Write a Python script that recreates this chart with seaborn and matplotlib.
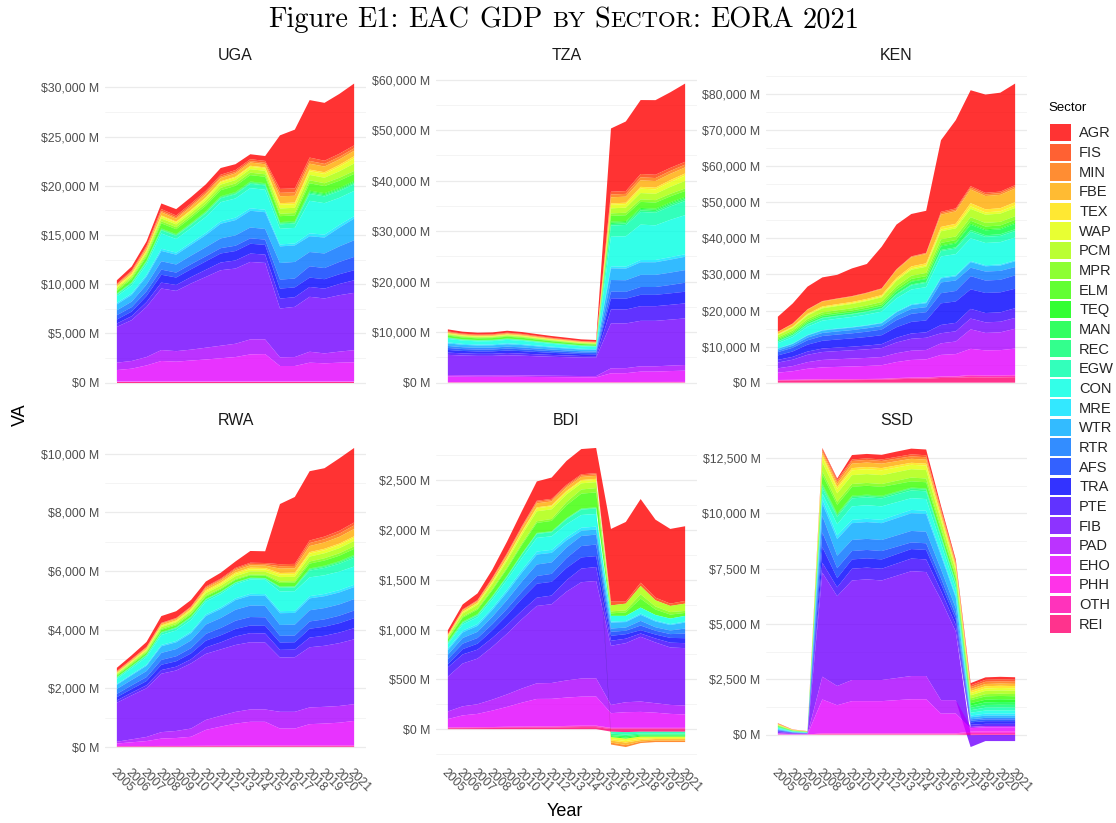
import colorsys

import numpy as np
import pandas as pd
import matplotlib
matplotlib.use("Agg")
import matplotlib.pyplot as plt
import seaborn as sns
from matplotlib.patches import Patch
from matplotlib.ticker import FuncFormatter, MultipleLocator

# ---------------------------------------------------------------------------
# Data: value added by sector (US$ millions), EORA, 2005-2021
# Rows follow SECTORS order (AGR first ... REI last), columns follow YEARS.
# ---------------------------------------------------------------------------
YEARS = [2005, 2006, 2007, 2008, 2009, 2010, 2011, 2012, 2013,
         2014, 2015, 2016, 2017, 2018, 2019, 2020, 2021]

SECTORS = ["AGR", "FIS", "MIN", "FBE", "TEX", "WAP", "PCM", "MPR", "ELM",
           "TEQ", "MAN", "REC", "EGW", "CON", "MRE", "WTR", "RTR", "AFS",
           "TRA", "PTE", "FIB", "PAD", "EHO", "PHH", "OTH", "REI"]

COUNTRIES = ["UGA", "TZA", "KEN", "RWA", "BDI", "SSD"]

Y_STEP = [5000, 10000, 10000, 2000, 500, 2500]

UGA = [
    [350, 400, 450, 570, 650, 650, 660, 680, 600, 500, 500, 5440, 5980, 5840, 5880, 6080, 6280],
    [80, 100, 140, 190, 180, 190, 190, 190, 190, 190, 190, 400, 390, 340, 320, 310, 300],
    [60, 80, 100, 140, 140, 150, 150, 150, 150, 150, 150, 350, 350, 280, 270, 260, 250],
    [120, 160, 230, 320, 300, 310, 320, 330, 330, 330, 320, 700, 690, 600, 580, 560, 550],
    [60, 65, 75, 90, 85, 90, 95, 100, 100, 100, 100, 160, 160, 160, 165, 190, 210],
    [130, 145, 170, 210, 200, 210, 220, 235, 245, 250, 250, 380, 370, 380, 390, 460, 530],
    [170, 190, 230, 290, 280, 290, 310, 330, 340, 350, 350, 540, 530, 550, 560, 660, 760],
    [120, 140, 170, 210, 200, 210, 225, 240, 245, 250, 250, 240, 240, 300, 290, 300, 300],
    [250, 300, 380, 520, 500, 530, 570, 610, 630, 650, 650, 600, 590, 750, 720, 710, 700],
    [30, 35, 40, 50, 50, 50, 55, 55, 60, 60, 60, 60, 60, 90, 90, 95, 100],
    [40, 45, 55, 65, 65, 65, 70, 75, 80, 80, 80, 90, 90, 120, 120, 125, 130],
    [40, 45, 55, 65, 65, 65, 70, 75, 80, 80, 80, 80, 80, 120, 115, 115, 110],
    [170, 200, 240, 330, 320, 340, 370, 400, 430, 450, 450, 450, 450, 700, 690, 690, 680],
    [680, 820, 1050, 1550, 1380, 1470, 1620, 1950, 1950, 2050, 2030, 1590, 1580, 3300, 3200, 2750, 2560],
    [150, 160, 180, 220, 210, 220, 230, 240, 250, 250, 250, 200, 200, 300, 290, 280, 260],
    [600, 680, 820, 1050, 1000, 1100, 1230, 1490, 1550, 1700, 1700, 1690, 1680, 1600, 1620, 1900, 2200],
    [500, 560, 680, 850, 820, 870, 920, 990, 1050, 1100, 1080, 1690, 1680, 1450, 1480, 1580, 1690],
    [440, 450, 480, 520, 500, 510, 520, 540, 540, 550, 540, 910, 900, 1150, 1130, 1250, 1350],
    [400, 470, 620, 800, 760, 800, 860, 920, 960, 1000, 980, 1010, 1000, 950, 960, 990, 1020],
    [340, 400, 480, 600, 600, 650, 720, 780, 820, 850, 850, 1010, 980, 1000, 1000, 1140, 1280],
    [3640, 4150, 5100, 6250, 6120, 6720, 7190, 7670, 7640, 7870, 7770, 4960, 5100, 5580, 5580, 5730, 5820],
    [750, 780, 850, 1110, 1070, 1100, 1200, 1270, 1350, 1520, 1490, 880, 910, 1110, 1010, 1120, 1240],
    [1180, 1320, 1650, 2100, 2030, 2150, 2250, 2380, 2500, 2770, 2800, 1590, 1590, 1930, 1860, 1930, 1960],
    [30, 30, 30, 30, 30, 30, 30, 30, 30, 30, 30, 30, 30, 30, 30, 30, 30],
    [30, 30, 30, 30, 30, 30, 30, 30, 30, 30, 30, 30, 30, 30, 30, 30, 30],
    [40, 40, 40, 40, 40, 40, 40, 40, 40, 40, 40, 40, 40, 40, 40, 40, 40],
]

TZA = [
    [400, 380, 370, 370, 380, 370, 360, 350, 340, 330, 330, 12520, 13780, 14640, 14770, 14970, 15490],
    [120, 112, 109, 110, 116, 111, 104, 97, 91, 85, 82, 560, 550, 650, 650, 600, 560],
    [100, 93, 91, 92, 96, 93, 87, 81, 76, 71, 68, 550, 550, 600, 600, 570, 550],
    [150, 140, 136, 138, 144, 139, 130, 121, 114, 106, 102, 1200, 1200, 1300, 1300, 1250, 1200],
    [60, 56, 54, 55, 58, 56, 52, 49, 45, 42, 41, 280, 280, 350, 350, 390, 420],
    [100, 93, 91, 92, 96, 93, 87, 81, 76, 71, 68, 700, 700, 870, 870, 950, 1050],
    [150, 140, 136, 138, 144, 139, 130, 121, 114, 106, 102, 1000, 1000, 1250, 1250, 1380, 1500],
    [150, 140, 136, 138, 144, 139, 130, 121, 114, 106, 102, 500, 500, 500, 500, 500, 500],
    [360, 336, 327, 331, 347, 334, 313, 291, 273, 254, 245, 1150, 1150, 1200, 1200, 1180, 1150],
    [40, 37, 36, 37, 39, 37, 35, 32, 30, 28, 27, 200, 200, 200, 200, 200, 200],
    [50, 47, 45, 46, 48, 46, 43, 40, 38, 35, 34, 270, 270, 280, 280, 280, 280],
    [50, 47, 45, 46, 48, 46, 43, 40, 38, 35, 34, 300, 300, 320, 320, 330, 350],
    [150, 140, 136, 138, 144, 139, 130, 121, 114, 106, 102, 2200, 2250, 2500, 2500, 2650, 2800],
    [700, 653, 636, 644, 674, 649, 608, 566, 530, 493, 476, 5860, 6000, 7000, 6850, 7400, 7740],
    [200, 187, 182, 184, 193, 185, 174, 162, 151, 141, 136, 400, 400, 450, 450, 480, 500],
    [500, 467, 454, 460, 481, 463, 434, 404, 378, 352, 340, 2310, 2300, 2500, 2500, 2570, 2640],
    [400, 373, 363, 368, 385, 371, 348, 324, 303, 282, 272, 2310, 2300, 2400, 2400, 2450, 2500],
    [400, 373, 363, 368, 385, 371, 348, 324, 303, 282, 272, 1320, 1350, 1550, 1550, 1650, 1780],
    [520, 485, 472, 478, 500, 482, 452, 420, 394, 367, 354, 2180, 2150, 2250, 2250, 2280, 2310],
    [450, 420, 410, 415, 435, 415, 390, 365, 340, 317, 306, 2770, 2750, 2900, 2900, 2930, 2970],
    [4000, 3900, 3850, 3850, 3950, 3900, 3820, 3750, 3700, 3650, 3650, 8900, 8850, 9000, 9000, 9100, 9230],
    [300, 290, 290, 290, 300, 290, 280, 270, 260, 250, 250, 990, 1000, 1050, 1050, 1080, 1120],
    [1100, 1080, 1060, 1060, 1070, 1050, 1020, 1000, 980, 960, 950, 1730, 1750, 2050, 2050, 2150, 2220],
    [30, 30, 30, 30, 30, 30, 30, 30, 30, 30, 30, 40, 40, 45, 45, 48, 50],
    [40, 40, 40, 40, 40, 40, 40, 40, 40, 40, 40, 50, 50, 55, 55, 58, 60],
    [30, 30, 30, 30, 30, 30, 30, 30, 30, 30, 30, 30, 30, 35, 35, 38, 40],
]

KEN = [
    [4160, 5550, 6280, 6560, 6560, 7670, 7950, 11550, 12380, 11750, 11670, 19860, 24490, 26610, 27260, 27440, 28180],
    [40, 47, 59, 66, 68, 70, 72, 75, 89, 97, 100, 400, 404, 429, 421, 422, 430],
    [60, 70, 85, 95, 97, 100, 110, 120, 160, 190, 200, 400, 410, 500, 470, 480, 500],
    [550, 760, 1130, 1340, 1410, 1470, 1560, 1670, 2170, 2510, 2600, 3400, 3450, 3790, 3690, 3700, 3800],
    [170, 200, 250, 280, 290, 300, 320, 340, 460, 530, 550, 700, 730, 890, 840, 850, 900],
    [150, 170, 210, 240, 240, 250, 260, 280, 340, 390, 400, 500, 530, 690, 640, 650, 700],
    [600, 740, 980, 1120, 1160, 1200, 1240, 1290, 1510, 1660, 1700, 2240, 2250, 2300, 2280, 2290, 2300],
    [400, 450, 530, 570, 590, 600, 620, 650, 790, 880, 900, 1000, 1000, 1000, 1000, 1000, 1000],
    [300, 320, 360, 390, 390, 400, 420, 440, 520, 580, 600, 700, 710, 800, 770, 780, 800],
    [60, 70, 85, 95, 97, 100, 110, 120, 160, 190, 200, 250, 260, 300, 290, 290, 300],
    [300, 330, 390, 430, 440, 450, 480, 510, 670, 770, 800, 1000, 1060, 1480, 1360, 1380, 1500],
    [100, 110, 130, 140, 150, 150, 160, 170, 210, 240, 250, 300, 330, 490, 440, 450, 500],
    [450, 510, 610, 670, 680, 700, 740, 790, 1010, 1160, 1200, 1500, 1540, 1790, 1710, 1730, 1800],
    [1450, 1760, 2300, 2610, 2710, 2800, 2910, 3050, 3670, 4080, 4200, 5800, 5860, 6280, 6160, 6180, 6300],
    [100, 110, 130, 140, 150, 150, 160, 170, 210, 240, 250, 300, 300, 300, 300, 300, 300],
    [460, 520, 610, 670, 680, 700, 730, 770, 950, 1070, 1100, 1100, 1160, 1580, 1460, 1480, 1600],
    [460, 560, 740, 840, 870, 900, 940, 990, 1210, 1360, 1400, 3000, 2910, 2330, 2500, 2480, 2300],
    [920, 1030, 1220, 1330, 1370, 1400, 1470, 1560, 1960, 2230, 2300, 2800, 2910, 3670, 3440, 3480, 3700],
    [1250, 1490, 1910, 2150, 2230, 2300, 2380, 2480, 2920, 3220, 3300, 6000, 5930, 5420, 5570, 5550, 5400],
    [740, 800, 900, 960, 980, 1000, 1040, 1090, 1310, 1460, 1500, 2300, 2350, 2680, 2580, 2600, 2700],
    [1600, 1760, 2040, 2200, 2250, 2300, 2380, 2490, 2990, 3310, 3400, 2800, 2830, 2990, 2940, 2950, 3000],
    [1200, 1430, 1830, 2060, 2130, 2200, 2230, 2270, 2450, 2570, 2600, 3200, 3490, 5410, 4840, 4930, 5500],
    [2030, 2370, 2960, 3290, 3400, 3500, 3620, 3770, 4440, 4880, 5000, 6000, 6160, 7250, 6930, 6980, 7300],
    [90, 92, 96, 99, 99, 100, 100, 100, 100, 100, 100, 100, 112, 196, 171, 175, 200],
    [150, 157, 169, 176, 178, 180, 185, 192, 224, 244, 250, 300, 319, 444, 407, 412, 450],
    [500, 550, 630, 670, 690, 700, 730, 770, 950, 1070, 1100, 1300, 1330, 1490, 1440, 1450, 1500],
]

RWA = [
    [110, 130, 170, 230, 230, 220, 170, 200, 220, 400, 400, 2050, 2280, 2360, 2330, 2470, 2540],
    [15, 15, 15, 15, 15, 15, 27, 30, 37, 40, 40, 70, 70, 87, 90, 94, 100],
    [20, 21, 22, 24, 24, 25, 37, 40, 47, 50, 50, 80, 80, 103, 107, 112, 120],
    [30, 34, 38, 45, 46, 50, 64, 68, 76, 80, 80, 150, 150, 207, 217, 229, 250],
    [10, 14, 18, 25, 26, 30, 39, 42, 48, 50, 50, 50, 50, 50, 50, 50, 50],
    [20, 24, 28, 35, 36, 40, 58, 64, 75, 80, 80, 90, 90, 101, 103, 106, 110],
    [30, 37, 45, 60, 63, 70, 84, 88, 96, 100, 100, 150, 150, 167, 170, 174, 180],
    [30, 32, 34, 38, 38, 40, 35, 34, 31, 30, 30, 50, 50, 73, 77, 82, 90],
    [50, 54, 58, 65, 66, 70, 75, 76, 79, 80, 80, 120, 120, 165, 174, 185, 200],
    [5, 6, 7, 9, 9, 10, 8, 7, 6, 5, 5, 10, 10, 16, 17, 18, 20],
    [10, 11, 12, 14, 14, 15, 10, 9, 6, 5, 5, 10, 10, 21, 23, 26, 30],
    [10, 11, 12, 14, 14, 15, 13, 12, 11, 10, 10, 20, 20, 37, 40, 44, 50],
    [40, 47, 55, 70, 73, 80, 60, 55, 45, 40, 40, 130, 130, 230, 250, 270, 300],
    [170, 210, 260, 340, 360, 400, 440, 455, 480, 490, 490, 670, 670, 640, 635, 630, 620],
    [30, 34, 38, 45, 46, 50, 55, 56, 59, 60, 60, 70, 70, 76, 77, 78, 80],
    [140, 160, 180, 225, 230, 250, 290, 305, 330, 340, 340, 400, 400, 405, 405, 408, 410],
    [170, 185, 205, 240, 245, 260, 320, 340, 375, 390, 390, 370, 370, 380, 385, 385, 390],
    [110, 125, 135, 165, 170, 180, 230, 250, 280, 290, 290, 230, 230, 250, 250, 255, 260],
    [110, 125, 145, 180, 185, 200, 230, 240, 255, 260, 260, 250, 250, 300, 310, 320, 340],
    [80, 90, 100, 125, 130, 140, 220, 240, 290, 310, 310, 260, 260, 330, 340, 360, 380],
    [1330, 1500, 1660, 1990, 2060, 2220, 2250, 2260, 2280, 2290, 2280, 1850, 1860, 2050, 2080, 2140, 2210],
    [60, 100, 140, 220, 240, 280, 340, 370, 400, 420, 420, 570, 570, 570, 570, 570, 570],
    [90, 130, 170, 250, 270, 310, 540, 650, 750, 810, 810, 580, 580, 730, 750, 780, 840],
    [10, 10, 10, 10, 10, 10, 10, 10, 10, 10, 10, 10, 10, 10, 10, 10, 10],
    [10, 11, 12, 14, 14, 15, 17, 18, 19, 20, 20, 20, 20, 20, 20, 20, 20],
    [10, 11, 12, 14, 14, 15, 17, 18, 19, 20, 20, 20, 20, 20, 20, 20, 20],
]

BDI = [
    [40, 50, 67, 83, 117, 150, 194, 214, 240, 253, 253, 730, 800, 840, 783, 750, 750],
    [3, 4, 5, 6, 8, 9, 11, 11, 12, 12, 12, 38, 20, 33, 27, 23, 27],
    [4, 6, 7, 9, 11, 13, 15, 15, 15, 15, 15, -20, -20, -15, -15, -15, -15],
    [8, 14, 16, 22, 28, 34, 40, 39, 34, 31, 30, -20, -25, -15, -15, -15, -15],
    [4, 5, 6, 7, 8, 9, 10, 10, 10, 10, 10, -15, -15, -15, -10, -10, -10],
    [8, 12, 14, 17, 21, 26, 30, 30, 26, 23, 23, -20, -25, -20, -15, -15, -15],
    [15, 31, 37, 51, 67, 84, 100, 97, 77, 62, 60, 60, 67, 84, 62, 62, 73],
    [10, 11, 12, 13, 14, 16, 17, 19, 32, 42, 43, 20, 21, 43, 30, 25, 20],
    [25, 39, 44, 57, 71, 86, 100, 104, 129, 148, 150, 25, 35, 90, 55, 40, 30],
    [3, 3, 3, 3, 2, 2, 2, 2, 3, 3, 3, -10, -10, -10, -10, -10, -10],
    [5, 5, 5, 4, 4, 3, 3, 3, 4, 4, 4, -10, -15, -10, -10, -10, -10],
    [5, 5, 5, 5, 5, 5, 5, 5, 5, 5, 5, -15, -15, -10, -10, -10, -10],
    [10, 16, 18, 23, 28, 34, 40, 41, 49, 54, 55, -20, -25, -20, -20, -20, -20],
    [45, 62, 68, 84, 101, 120, 137, 136, 131, 128, 127, 57, 52, 60, 55, 55, 57],
    [15, 18, 19, 21, 24, 27, 30, 30, 30, 30, 30, 10, 10, 13, 10, 10, 10],
    [46, 56, 60, 69, 79, 90, 100, 96, 72, 53, 50, 60, 55, 60, 58, 55, 60],
    [44, 57, 62, 74, 88, 102, 116, 115, 107, 101, 100, 33, 32, 47, 35, 36, 50],
    [50, 55, 57, 61, 66, 72, 77, 80, 99, 114, 116, 40, 35, 47, 38, 38, 47],
    [33, 53, 60, 78, 98, 120, 140, 138, 123, 112, 110, 50, 45, 33, 40, 48, 50],
    [93, 91, 90, 89, 87, 85, 83, 87, 115, 137, 140, 50, 45, 33, 40, 48, 50],
    [350, 430, 458, 530, 610, 696, 777, 791, 891, 967, 977, 594, 593, 650, 610, 577, 576],
    [76, 91, 97, 110, 125, 142, 157, 159, 172, 182, 183, 83, 100, 104, 95, 90, 90],
    [85, 120, 133, 165, 200, 240, 275, 276, 285, 291, 292, 147, 157, 160, 152, 140, 134],
    [3, 3, 4, 4, 4, 5, 5, 5, 5, 5, 5, 5, 5, 5, 5, 5, 5],
    [5, 6, 6, 6, 7, 7, 8, 8, 9, 10, 10, 8, 8, 8, 8, 8, 8],
    [8, 9, 10, 11, 13, 14, 15, 15, 18, 20, 20, -25, -30, -25, -25, -25, -25],
]

SSD = [
    [10, 4, 3, 30, 60, 200, 200, 210, 240, 260, 260, 140, 100, 100, 110, 115, 110],
    [15, 7, 5, 100, 80, 70, 70, 70, 80, 90, 90, 70, 55, 80, 90, 90, 90],
    [15, 7, 5, 80, 100, 120, 120, 120, 115, 110, 110, 90, 70, 90, 100, 100, 100],
    [20, 9, 6, 100, 140, 200, 200, 200, 190, 180, 180, 140, 110, 90, 100, 100, 100],
    [15, 7, 5, 100, 90, 100, 100, 100, 95, 90, 90, 70, 55, 90, 100, 100, 100],
    [15, 7, 5, 240, 200, 220, 220, 220, 210, 200, 200, 160, 120, 100, 110, 110, 110],
    [20, 9, 6, 400, 380, 400, 400, 400, 390, 380, 380, 300, 230, 135, 150, 150, 150],
    [15, 7, 5, 160, 140, 130, 130, 130, 150, 170, 170, 130, 100, 90, 100, 100, 100],
    [25, 11, 8, 400, 400, 400, 400, 400, 340, 280, 280, 230, 180, 135, 150, 150, 150],
    [15, 7, 5, 50, 40, 30, 30, 30, 25, 20, 20, 20, 15, 105, 120, 125, 115],
    [15, 7, 5, 50, 40, 30, 30, 30, 30, 30, 30, 25, 20, 105, 120, 125, 125],
    [15, 7, 5, 100, 70, 60, 60, 60, 70, 80, 80, 60, 45, 105, 120, 125, 125],
    [20, 9, 6, 250, 330, 360, 360, 360, 355, 350, 350, 270, 210, 115, 130, 135, 130],
    [40, 18, 12, 250, 500, 610, 610, 610, 570, 530, 530, 420, 320, 125, 140, 140, 140],
    [20, 9, 6, 200, 170, 150, 150, 150, 150, 150, 150, 120, 90, 80, 90, 90, 90],
    [30, 14, 9, 560, 750, 760, 760, 760, 780, 800, 800, 620, 480, 90, 100, 100, 100],
    [20, 9, 6, 750, 560, 500, 500, 500, 510, 520, 520, 400, 300, 65, 70, 70, 70],
    [20, 9, 6, 660, 450, 380, 380, 380, 340, 300, 300, 260, 200, 75, 80, 80, 80],
    [30, 14, 9, 710, 420, 420, 420, 420, 425, 430, 430, 320, 250, 110, 120, 120, 120],
    [20, 9, 6, 450, 400, 530, 530, 530, 550, 570, 570, 400, 300, 95, 100, 100, 100],
    [60, 27, 18, 4700, 4060, 4500, 4550, 4500, 4620, 4740, 4700, 4540, 3100, -540, -275, -275, -275],
    [20, 9, 6, 1030, 870, 955, 955, 955, 1000, 1050, 1050, 610, 605, 55, 60, 60, 60],
    [30, 14, 9, 1530, 1270, 1455, 1455, 1455, 1500, 1540, 1540, 890, 895, 160, 180, 180, 180],
    [5, 2, 2, 20, 20, 20, 20, 20, 20, 20, 20, 20, 20, 55, 70, 70, 70],
    [5, 2, 2, 20, 20, 20, 20, 20, 20, 20, 20, 20, 20, 80, 80, 80, 80],
    [5, 2, 2, 20, 20, 20, 20, 20, 20, 20, 20, 20, 20, -20, -15, -15, -15],
]

TABLES = [UGA, TZA, KEN, RWA, BDI, SSD]

# ---------------------------------------------------------------------------
# Style
# ---------------------------------------------------------------------------
sns.set_theme(style="white")
plt.rcParams["font.family"] = ["Liberation Sans", "DejaVu Sans"]

W, H, DPI = 1116, 823, 100

# rainbow palette (hue steps of 1/27 of the wheel) drawn at 80% opacity
PALETTE = [(*colorsys.hsv_to_rgb(i / (len(SECTORS) + 1), 1.0, 1.0), 0.8)
           for i in range(len(SECTORS))]

records = []
for code, table in zip(COUNTRIES, TABLES):
    for sector, row in zip(SECTORS, table):
        records.append(pd.DataFrame({"Country": code, "Sector": sector,
                                     "Year": YEARS, "VA": row}))
df = pd.concat(records, ignore_index=True)


def stacked_area(data, **kws):
    """Stack sectors like ggplot's position_stack: positives up, negatives down."""
    ax = plt.gca()
    wide = data.pivot(index="Sector", columns="Year", values="VA").reindex(SECTORS)
    x = wide.columns.to_numpy(dtype=float)
    vals = wide.to_numpy(dtype=float)
    pos = np.zeros_like(x)
    neg = np.zeros_like(x)
    bands = []
    for i in range(len(SECTORS) - 1, -1, -1):
        v = vals[i]
        lo = np.where(v >= 0, pos, neg + v)
        hi = np.where(v >= 0, pos + v, neg)
        pos = pos + np.clip(v, 0, None)
        neg = neg + np.clip(v, None, 0)
        bands.append((i, lo, hi))
    for i, lo, hi in reversed(bands):
        ax.fill_between(x, lo, hi, facecolor=PALETTE[i], edgecolor="none",
                        linewidth=0)
    ymin = min(0.0, neg.min())
    ymax = max(0.0, pos.max())
    pad = 0.05 * (ymax - ymin)
    ax.set_ylim(ymin - pad, ymax + pad)


g = sns.FacetGrid(df, col="Country", col_order=COUNTRIES, col_wrap=3,
                  sharex=True, sharey=False, height=3, aspect=1, despine=False)
g.map_dataframe(stacked_area)

fig = g.figure
fig.set_layout_engine("none")
fig.set_size_inches(W / DPI, H / DPI)
fig.set_dpi(DPI)

money = FuncFormatter(lambda v, p: f"${v:,.0f} M")

col_left = [105, 436, 766]
panel_w = 261
row_span = [(68.6, 397.6), (433.0, 762.0)]

for k, (ax, code) in enumerate(zip(g.axes.flat, COUNTRIES)):
    r, c = divmod(k, 3)
    top, bottom = row_span[r]
    ax.set_position([col_left[c] / W, 1 - bottom / H, panel_w / W, (bottom - top) / H])
    ax.set_facecolor("white")
    ax.set_title(code, fontsize=11.5, color="#1A1A1A", pad=6)
    ax.set_xlim(2004.2, 2021.8)
    ax.yaxis.set_major_locator(MultipleLocator(Y_STEP[k]))
    ax.yaxis.set_minor_locator(MultipleLocator(Y_STEP[k] / 2))
    ax.yaxis.set_major_formatter(money)
    ax.grid(False)
    ax.grid(True, which="major", axis="y", color="#EBEBEB", linewidth=0.9)
    ax.grid(True, which="minor", axis="y", color="#F0F0F0", linewidth=0.5)
    ax.set_axisbelow(True)
    for s in ax.spines.values():
        s.set_visible(False)
    ax.tick_params(which="both", length=0, labelsize=8.8, labelcolor="#4D4D4D", pad=4)
    ax.set_xlabel("")
    ax.set_ylabel("")
    ax.set_xticks(YEARS)
    if r == 1:
        ax.tick_params(axis="x", labelbottom=True, pad=3)
        ax.set_xticklabels([str(y) for y in YEARS], rotation=-45, ha="left",
                           va="top", rotation_mode="anchor")
    else:
        ax.tick_params(axis="x", labelbottom=False)

# axis titles
fig.text(565 / W, 1 - 812 / H, "Year", ha="center", va="center", fontsize=13, color="black")
fig.text(20 / W, 1 - 415 / H, "VA", ha="center", va="center", rotation=90,
         fontsize=13, color="black")

# legend
fig.text(1048 / W, 1 - 108 / H, "Sector", ha="left", va="center", fontsize=9.5, color="black")
handles = [Patch(facecolor=PALETTE[i], edgecolor="none") for i in range(len(SECTORS))]
fig.legend(handles, SECTORS, loc="upper left", bbox_to_anchor=(1050 / W, 1 - 124 / H),
           frameon=False, fontsize=10.5, handlelength=1.45, handleheight=1.45,
           labelspacing=0.16, handletextpad=0.55, borderaxespad=0, borderpad=0)

# title with small capitals, Computer Modern face
renderer = fig.canvas.get_renderer()
FULL = 1.0
SMALL = 0.8
words = [[("Figure", FULL)], [("E1:", FULL)], [("EAC", FULL)], [("GDP", FULL)],
         [("BY", SMALL)], [("S", FULL), ("ECTOR", SMALL), (":", FULL)],
         [("EORA", FULL)], [("2021", FULL)]]


def run_width(text, size):
    t = fig.text(0, 0, text, fontsize=size, family="cmr10")
    w = t.get_window_extent(renderer).width
    t.remove()
    return w


def layout_width(base):
    total = 0.0
    for j, word in enumerate(words):
        for text, scale in word:
            total += run_width(text, base * scale)
        if j < len(words) - 1:
            total += 0.333 * base * DPI / 72
    return total


base = 18.0
base *= 592 / layout_width(base)
x = 564 - layout_width(base) / 2
for j, word in enumerate(words):
    for text, scale in word:
        fig.text(x / W, 1 - 27 / H, text, fontsize=base * scale, family="cmr10",
                 ha="left", va="baseline", color="black")
        x += run_width(text, base * scale)
    x += 0.333 * base * DPI / 72

fig.savefig("out.png", dpi=DPI, facecolor="white")
